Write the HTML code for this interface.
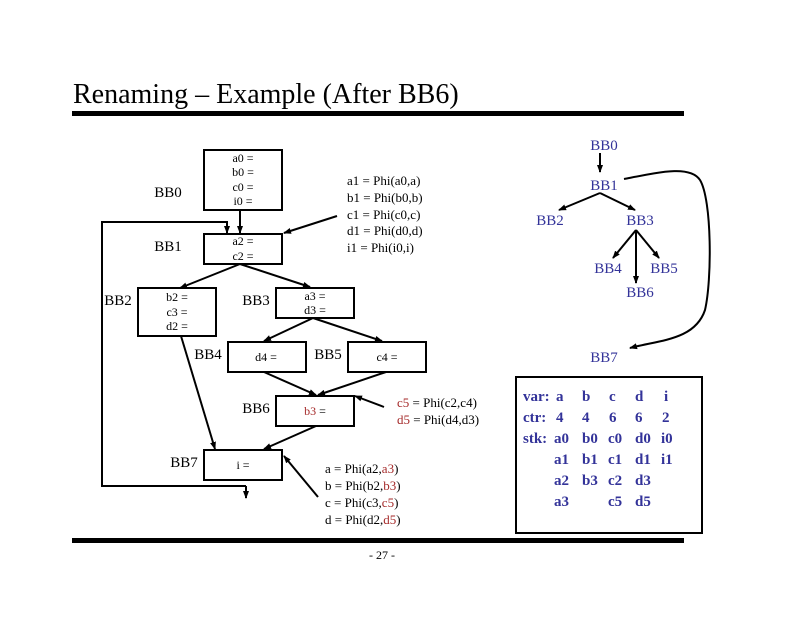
<!DOCTYPE html>
<html><head><style>
body{margin:0;background:#fff;}
svg text{font-family:"Liberation Serif",serif;}
</style></head><body>
<svg width="792" height="612" viewBox="0 0 792 612" xmlns="http://www.w3.org/2000/svg">
<defs><marker id="ah" markerWidth="8" markerHeight="8" refX="7" refY="4" orient="auto" markerUnits="userSpaceOnUse"><path d="M0,1 L8,4 L0,7 z" fill="#000"/></marker></defs>
<text x="73" y="103" font-size="28">Renaming – Example (After BB6)</text>
<rect x="72" y="111" width="612" height="5" fill="#000"/>
<rect x="72" y="538" width="612" height="5" fill="#000"/>
<text x="382" y="559" font-size="12" text-anchor="middle">- 27 -</text>
<g fill="none" stroke="#000" stroke-width="2">
<rect x="204" y="150" width="78" height="60"/>
<rect x="204" y="234" width="78" height="30"/>
<rect x="138" y="288" width="78" height="48"/>
<rect x="276" y="288" width="78" height="30"/>
<rect x="228" y="342" width="78" height="30"/>
<rect x="348" y="342" width="78" height="30"/>
<rect x="276" y="396" width="78" height="30"/>
<rect x="204" y="450" width="78" height="30"/>
<g marker-end="url(#ah)">
<line x1="240" y1="210" x2="240" y2="233"/>
<polyline points="246,486 102,486 102,222 227,222 227,233"/>
<line x1="246" y1="486" x2="246" y2="498"/>
<line x1="337" y1="216" x2="284" y2="233"/>
<line x1="240" y1="264" x2="180" y2="288"/>
<line x1="240" y1="264" x2="310" y2="287"/>
<line x1="313" y1="318" x2="264" y2="341"/>
<line x1="313" y1="318" x2="382" y2="341"/>
<line x1="264" y1="372" x2="316" y2="395"/>
<line x1="386" y1="372" x2="318" y2="395"/>
<line x1="384" y1="407" x2="355" y2="396"/>
<line x1="316" y1="426" x2="264" y2="449"/>
<line x1="181" y1="336" x2="215" y2="449"/>
<line x1="318" y1="497" x2="284" y2="456"/>
</g>
</g>
<g font-size="12" text-anchor="middle">
<text x="243" y="162">a0 =</text><text x="243" y="176">b0 =</text><text x="243" y="191">c0 =</text><text x="243" y="205">i0 =</text>
<text x="243" y="245">a2 =</text><text x="243" y="260">c2 =</text>
<text x="177" y="301">b2 =</text><text x="177" y="316">c3 =</text><text x="177" y="330">d2 =</text>
<text x="315" y="300">a3 =</text><text x="315" y="314">d3 =</text>
<text x="266" y="361">d4 =</text>
<text x="387" y="361">c4 =</text>
<text x="315" y="415"><tspan fill="#a52a2a">b3</tspan> =</text>
<text x="243" y="469">i =</text>
</g>
<g font-size="15">
<text x="168" y="197" text-anchor="middle">BB0</text>
<text x="168" y="251" text-anchor="middle">BB1</text>
<text x="118" y="305" text-anchor="middle">BB2</text>
<text x="256" y="305" text-anchor="middle">BB3</text>
<text x="208" y="359" text-anchor="middle">BB4</text>
<text x="328" y="359" text-anchor="middle">BB5</text>
<text x="256" y="413" text-anchor="middle">BB6</text>
<text x="184" y="467" text-anchor="middle">BB7</text>
</g>
<g font-size="13">
<text x="347" y="185">a1 = Phi(a0,a)</text>
<text x="347" y="202">b1 = Phi(b0,b)</text>
<text x="347" y="219">c1 = Phi(c0,c)</text>
<text x="347" y="235">d1 = Phi(d0,d)</text>
<text x="347" y="252">i1 = Phi(i0,i)</text>
<text x="397" y="407"><tspan fill="#a52a2a">c5</tspan> = Phi(c2,c4)</text>
<text x="397" y="424"><tspan fill="#a52a2a">d5</tspan> = Phi(d4,d3)</text>
<text x="325" y="473">a = Phi(a2,<tspan fill="#a52a2a">a3</tspan>)</text>
<text x="325" y="490">b = Phi(b2,<tspan fill="#a52a2a">b3</tspan>)</text>
<text x="325" y="507">c = Phi(c3,<tspan fill="#a52a2a">c5</tspan>)</text>
<text x="325" y="524">d = Phi(d2,<tspan fill="#a52a2a">d5</tspan>)</text>
</g>
<g font-size="15" fill="#333399" text-anchor="middle">
<text x="604" y="150">BB0</text>
<text x="604" y="190">BB1</text>
<text x="550" y="225">BB2</text>
<text x="640" y="225">BB3</text>
<text x="608" y="273">BB4</text>
<text x="664" y="273">BB5</text>
<text x="640" y="297">BB6</text>
<text x="604" y="362">BB7</text>
</g>
<g fill="none" stroke="#000" stroke-width="2" marker-end="url(#ah)">
<line x1="600" y1="153" x2="600" y2="172"/>
<line x1="600" y1="193" x2="559" y2="210"/>
<line x1="600" y1="193" x2="635" y2="210"/>
<line x1="636" y1="230" x2="613" y2="258"/>
<line x1="636" y1="230" x2="659" y2="258"/>
<line x1="636" y1="230" x2="636" y2="283"/>
<path d="M624,179 C660,172 690,165 700,180 C712,200 712,280 705,310 C695,340 660,340 630,348"/>
</g>
<rect x="516" y="377" width="186" height="156" fill="none" stroke="#000" stroke-width="2"/>
<g font-size="15" font-weight="bold" fill="#333399">
<text x="523" y="401">var:</text><text x="556" y="401">a</text><text x="582" y="401">b</text><text x="609" y="401">c</text><text x="635" y="401">d</text><text x="664" y="401">i</text>
<text x="523" y="422">ctr:</text><text x="556" y="422">4</text><text x="582" y="422">4</text><text x="609" y="422">6</text><text x="635" y="422">6</text><text x="662" y="422">2</text>
<text x="523" y="443">stk:</text><text x="554" y="443">a0</text><text x="582" y="443">b0</text><text x="608" y="443">c0</text><text x="635" y="443">d0</text><text x="661" y="443">i0</text>
<text x="554" y="464">a1</text><text x="582" y="464">b1</text><text x="608" y="464">c1</text><text x="635" y="464">d1</text><text x="661" y="464">i1</text>
<text x="554" y="485">a2</text><text x="582" y="485">b3</text><text x="608" y="485">c2</text><text x="635" y="485">d3</text>
<text x="554" y="506">a3</text><text x="608" y="506">c5</text><text x="635" y="506">d5</text>
</g>
</svg>
</body></html>
